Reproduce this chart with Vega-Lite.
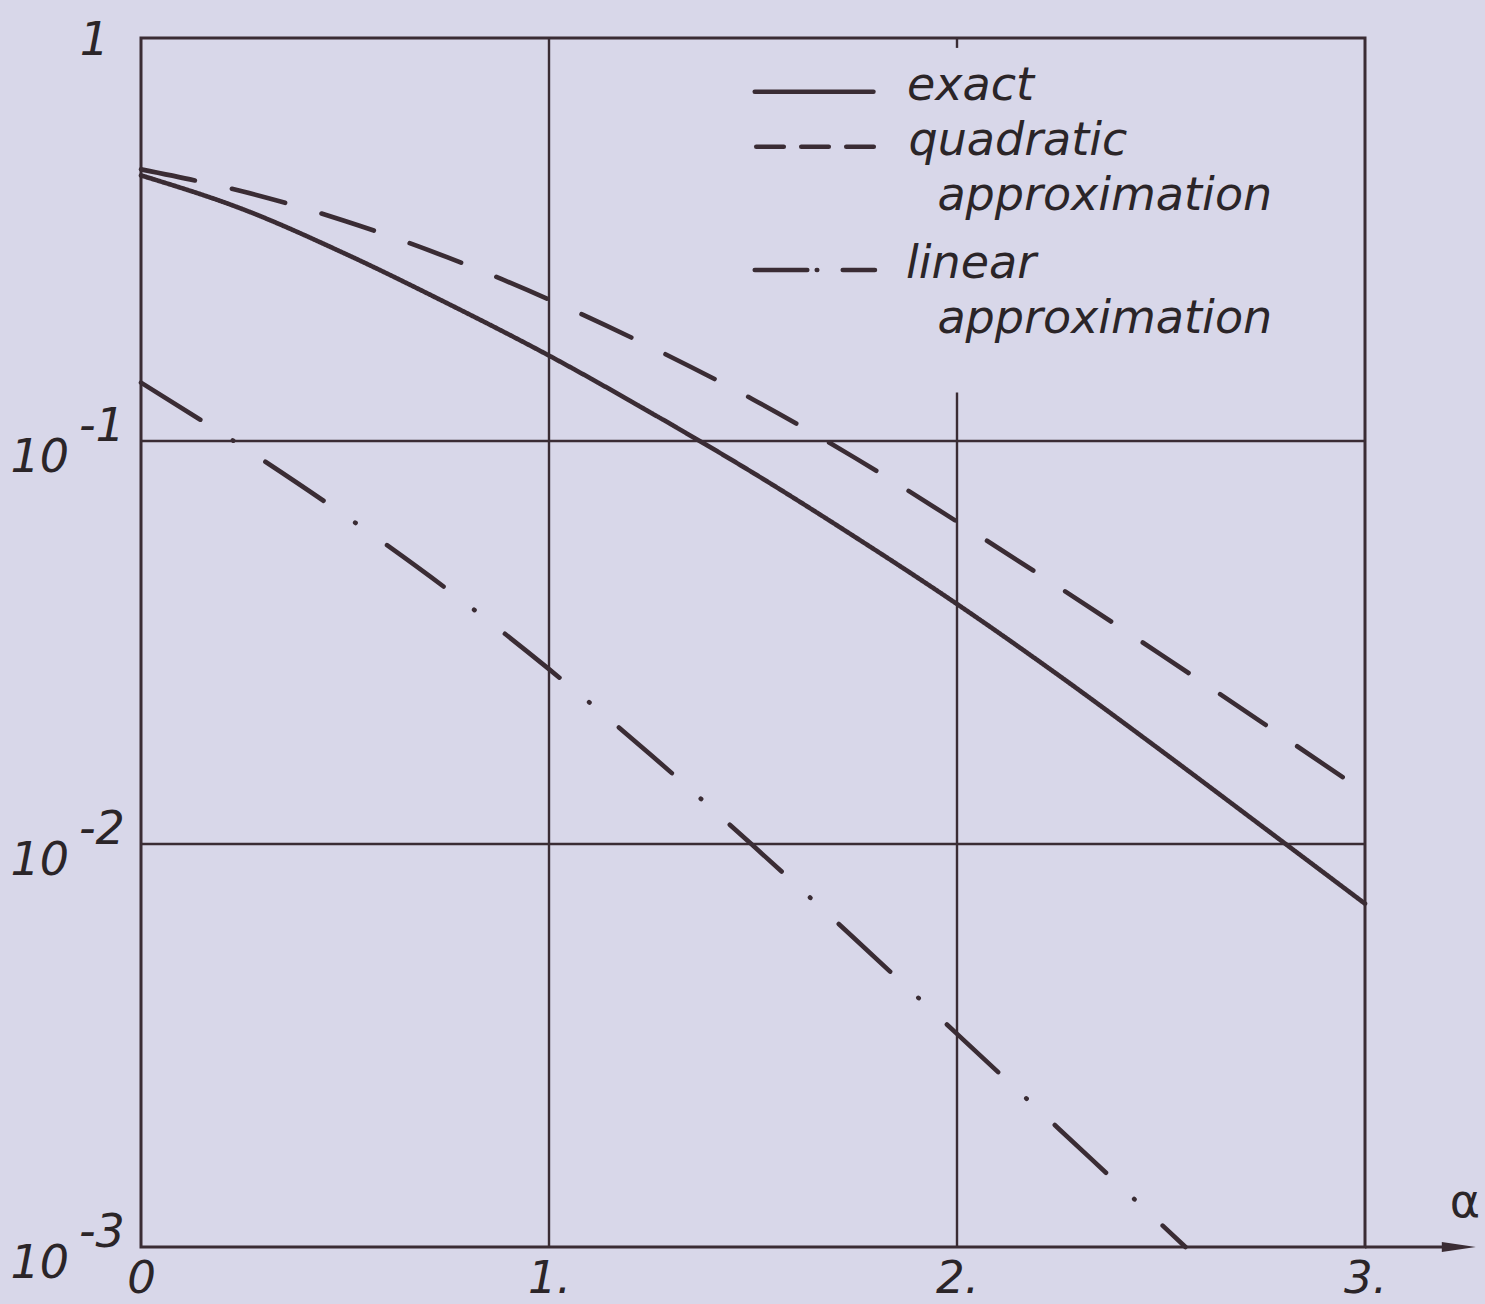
{
  "$schema": "https://vega.github.io/schema/vega-lite/v6.json",
  "width": 1224,
  "height": 1209,
  "autosize": {"type": "none"},
  "padding": {"left": 141, "top": 38, "right": 120, "bottom": 57},
  "background": "#d8d7e9",
  "config": {
    "view": {"stroke": "#3a2c34", "strokeWidth": 3},
    "font": "DejaVu Sans"
  },
  "datasets": {
    "curves": [
      {"alpha": 0, "value": 0.456, "series": "exact"},
      {"alpha": 0.25, "value": 0.3758, "series": "exact"},
      {"alpha": 0.5, "value": 0.2917, "series": "exact"},
      {"alpha": 0.75, "value": 0.2198, "series": "exact"},
      {"alpha": 1, "value": 0.1629, "series": "exact"},
      {"alpha": 1.25, "value": 0.1175, "series": "exact"},
      {"alpha": 1.5, "value": 0.0834, "series": "exact"},
      {"alpha": 1.75, "value": 0.0578, "series": "exact"},
      {"alpha": 2, "value": 0.0394, "series": "exact"},
      {"alpha": 2.25, "value": 0.02618, "series": "exact"},
      {"alpha": 2.5, "value": 0.01706, "series": "exact"},
      {"alpha": 2.75, "value": 0.01102, "series": "exact"},
      {"alpha": 3, "value": 0.00711, "series": "exact"},
      {"alpha": 0, "value": 0.4721, "series": "quadratic"},
      {"alpha": 0.25, "value": 0.4159, "series": "quadratic"},
      {"alpha": 0.5, "value": 0.3516, "series": "quadratic"},
      {"alpha": 0.75, "value": 0.2858, "series": "quadratic"},
      {"alpha": 1, "value": 0.2244, "series": "quadratic"},
      {"alpha": 1.25, "value": 0.171, "series": "quadratic"},
      {"alpha": 1.5, "value": 0.1268, "series": "quadratic"},
      {"alpha": 1.75, "value": 0.0908, "series": "quadratic"},
      {"alpha": 2, "value": 0.0631, "series": "quadratic"},
      {"alpha": 2.25, "value": 0.04335, "series": "quadratic"},
      {"alpha": 2.5, "value": 0.02951, "series": "quadratic"},
      {"alpha": 2.75, "value": 0.01995, "series": "quadratic"},
      {"alpha": 3, "value": 0.01343, "series": "quadratic"},
      {"alpha": 0, "value": 0.1396, "series": "linear"},
      {"alpha": 0.25, "value": 0.0966, "series": "linear"},
      {"alpha": 0.5, "value": 0.0653, "series": "linear"},
      {"alpha": 0.75, "value": 0.0429, "series": "linear"},
      {"alpha": 1, "value": 0.02716, "series": "linear"},
      {"alpha": 1.25, "value": 0.01663, "series": "linear"},
      {"alpha": 1.5, "value": 0.00991, "series": "linear"},
      {"alpha": 1.75, "value": 0.00581, "series": "linear"},
      {"alpha": 2, "value": 0.00338, "series": "linear"},
      {"alpha": 2.25, "value": 0.001963, "series": "linear"},
      {"alpha": 2.5, "value": 0.00114, "series": "linear"},
      {"alpha": 2.56, "value": 0.001, "series": "linear"}
    ],
    "gridV": [
      {"alpha": 1, "value": 0.001, "value2": 1},
      {"alpha": 2, "value": 0.001, "value2": 0.132},
      {"alpha": 2, "value": 0.945, "value2": 1}
    ],
    "gridH": [
      {"alpha": 0, "alpha2": 3, "value": 0.1},
      {"alpha": 0, "alpha2": 3, "value": 0.01}
    ],
    "axisExt": [
      {"alpha": 3, "alpha2": 3.23, "value": 0.001}
    ],
    "arrow": [
      {"alpha": 3.23, "value": 0.001}
    ],
    "alphaLabel": [
      {"alpha": 3.245, "value": 0.001187, "text": "α"}
    ],
    "yLabels": [
      {"alpha": 0, "value": 1, "base": "1", "exp": ""},
      {"alpha": 0, "value": 0.1, "base": "10", "exp": "-1"},
      {"alpha": 0, "value": 0.01, "base": "10", "exp": "-2"},
      {"alpha": 0, "value": 0.001, "base": "10", "exp": "-3"}
    ],
    "legendLines": [
      {"alpha": 1.5043, "alpha2": 1.7952, "value": 0.7357, "series": "exact"},
      {"alpha": 1.508, "alpha2": 1.796, "value": 0.5374, "series": "quadratic"},
      {"alpha": 1.5043, "alpha2": 1.7989, "value": 0.2656, "series": "linear"}
    ],
    "legendText": [
      {"alpha": 1.8775, "value": 0.7018, "text": "exact"},
      {"alpha": 1.881, "value": 0.5126, "text": "quadratic"},
      {"alpha": 1.952, "value": 0.3743, "text": "approximation"},
      {"alpha": 1.875, "value": 0.2533, "text": "linear"},
      {"alpha": 1.952, "value": 0.1854, "text": "approximation"}
    ]
  },
  "encoding": {
    "x": {
      "field": "alpha",
      "type": "quantitative",
      "scale": {"domain": [0, 3], "zero": false, "nice": false},
      "axis": {
        "values": [0, 1, 2, 3],
        "labelExpr": "datum.value == 0 ? '0' : datum.value + '.'",
        "domain": false,
        "ticks": false,
        "tickSize": 0,
        "grid": false,
        "title": null,
        "labelFont": "DejaVu Sans",
        "labelFontSize": 45,
        "labelFontStyle": "italic",
        "labelColor": "#2b2528",
        "labelBaseline": "alphabetic",
        "labelPadding": 45,
        "labelFlush": false,
        "labelOverlap": false
      }
    },
    "y": {
      "field": "value",
      "type": "quantitative",
      "scale": {"type": "log", "domain": [0.001, 1], "nice": false},
      "axis": null
    }
  },
  "layer": [
    {
      "data": {"name": "gridV"},
      "mark": {"type": "rule", "color": "#3a2c34", "strokeWidth": 2.4},
      "encoding": {"y2": {"field": "value2"}}
    },
    {
      "data": {"name": "gridH"},
      "mark": {"type": "rule", "color": "#3a2c34", "strokeWidth": 2.4},
      "encoding": {"x2": {"field": "alpha2"}}
    },
    {
      "data": {"name": "axisExt"},
      "mark": {"type": "rule", "color": "#3a2c34", "strokeWidth": 3, "clip": false},
      "encoding": {"x2": {"field": "alpha2"}}
    },
    {
      "data": {"name": "arrow"},
      "mark": {"type": "point", "shape": "M-1,-0.3L1,0L-1,0.3Z", "size": 1156, "filled": true, "color": "#3a2c34", "opacity": 1, "strokeWidth": 0, "clip": false}
    },
    {
      "data": {"name": "alphaLabel"},
      "mark": {"type": "text", "align": "center", "baseline": "alphabetic", "fontSize": 46, "font": "DejaVu Sans", "color": "#2b2528", "clip": false},
      "encoding": {"text": {"field": "text"}}
    },
    {
      "data": {"name": "curves"},
      "mark": {"type": "line", "interpolate": "monotone", "strokeWidth": 4.6, "strokeCap": "round", "color": "#3a2c34"},
      "encoding": {
        "detail": {"field": "series"},
        "strokeDash": {
          "field": "series",
          "type": "nominal",
          "scale": {"domain": ["exact", "quadratic", "linear"], "range": [[1, 0], [55, 38], [70, 38.5, 0.5, 38.5]]},
          "legend": null
        }
      }
    },
    {
      "data": {"name": "legendLines"},
      "transform": [{"filter": "datum.series == 'exact'"}],
      "mark": {"type": "rule", "color": "#3a2c34", "strokeWidth": 4.6, "strokeCap": "round"},
      "encoding": {"x2": {"field": "alpha2"}}
    },
    {
      "data": {"name": "legendLines"},
      "transform": [{"filter": "datum.series == 'quadratic'"}],
      "mark": {"type": "rule", "color": "#3a2c34", "strokeWidth": 4.6, "strokeCap": "round", "strokeDash": [27.5, 17.5]},
      "encoding": {"x2": {"field": "alpha2"}}
    },
    {
      "data": {"name": "legendLines"},
      "transform": [{"filter": "datum.series == 'linear'"}],
      "mark": {"type": "rule", "color": "#3a2c34", "strokeWidth": 4.6, "strokeCap": "round", "strokeDash": [52.5, 9.5, 0.5, 25.5, 200]},
      "encoding": {"x2": {"field": "alpha2"}}
    },
    {
      "data": {"name": "legendText"},
      "mark": {"type": "text", "align": "left", "baseline": "alphabetic", "fontSize": 46, "fontStyle": "italic", "font": "DejaVu Sans", "color": "#2b2528"},
      "encoding": {"text": {"field": "text"}}
    },
    {
      "data": {"name": "yLabels"},
      "transform": [{"filter": "datum.base == '1'"}],
      "mark": {"type": "text", "align": "right", "baseline": "alphabetic", "dx": -32, "dy": 17, "fontSize": 46, "fontStyle": "italic", "font": "DejaVu Sans", "color": "#2b2528", "clip": false},
      "encoding": {"text": {"field": "base"}}
    },
    {
      "data": {"name": "yLabels"},
      "transform": [{"filter": "datum.base == '10'"}],
      "mark": {"type": "text", "align": "right", "baseline": "alphabetic", "dx": -72, "dy": 31, "fontSize": 46, "fontStyle": "italic", "font": "DejaVu Sans", "color": "#2b2528", "clip": false},
      "encoding": {"text": {"field": "base"}}
    },
    {
      "data": {"name": "yLabels"},
      "transform": [{"filter": "datum.base == '10'"}],
      "mark": {"type": "text", "align": "left", "baseline": "alphabetic", "dx": -62, "dy": 0, "fontSize": 46, "fontStyle": "italic", "font": "DejaVu Sans", "color": "#2b2528", "clip": false},
      "encoding": {"text": {"field": "exp"}}
    }
  ]
}
